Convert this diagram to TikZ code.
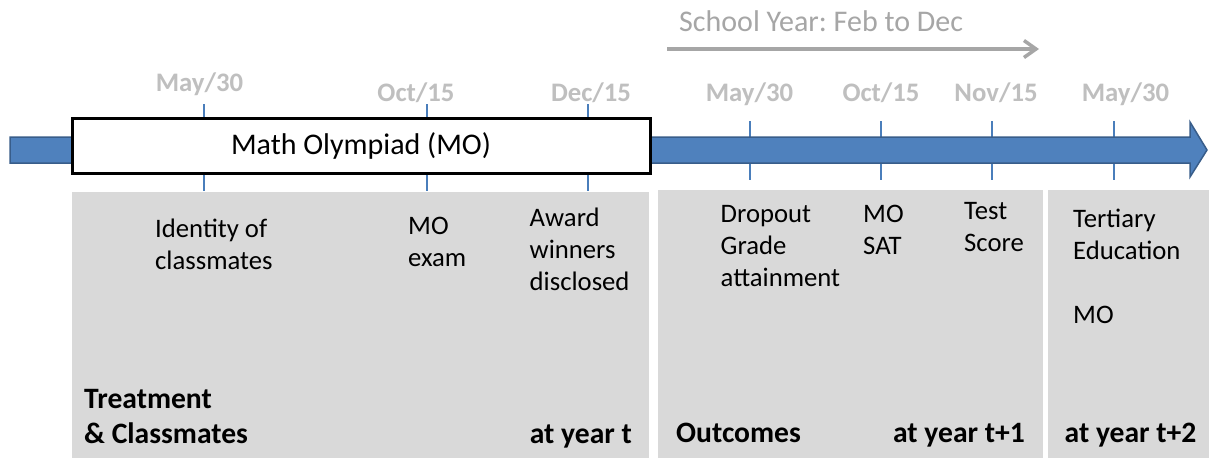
\documentclass[tikz,border=0pt]{standalone}
\usepackage{fontspec}
\setmainfont{Carlito}
\usetikzlibrary{arrows.meta}
\definecolor{shaftblue}{HTML}{4F81BD}
\definecolor{shaftedge}{HTML}{385D8A}
\definecolor{tickblue}{HTML}{4A7EBB}
\definecolor{panelgray}{HTML}{D9D9D9}
\definecolor{dategray}{HTML}{BFBFBF}
\definecolor{yeargray}{HTML}{A6A6A6}
\newcommand{\mylines}[1]{\begin{tabular}[t]{@{}l@{}}#1\end{tabular}}
\frenchspacing
\begin{document}
\begin{tikzpicture}[x=1pt,y=-1pt,
  body/.style={inner sep=0pt, anchor=base west, font=\fontsize{26.7}{32}\selectfont},
  bottomlbl/.style={inner sep=0pt, font=\fontsize{29.6}{35.5}\selectfont\bfseries},
  datelbl/.style={inner sep=0pt, anchor=base, text=dategray, font=\fontsize{26.7}{32}\selectfont\bfseries},
  tickline/.style={draw=tickblue, line width=1.5pt},
  panel/.style={fill=panelgray},
]
\fill[white] (0,0) rectangle (1209,458);
\useasboundingbox (0,0) rectangle (1209,458);

% panels
\fill[panel] (72,192) rectangle (649,458);
\fill[panel] (658,190) rectangle (1043,458);
\fill[panel] (1048,190) rectangle (1209,458);

% ticks
\foreach \tx in {204,427,588} {\draw[tickline] (\tx,104) -- (\tx,191);}
\foreach \tx in {750,881,992,1114} {\draw[tickline] (\tx,121) -- (\tx,180);}

% timeline arrow
\draw[fill=shaftblue, draw=shaftedge, line width=1.5pt, line join=miter]
  (10,137) -- (1190,137) -- (1190,122) -- (1207,150) -- (1190,177) -- (1190,163) -- (10,163) -- cycle;

% Math Olympiad box
\node[draw=black, line width=3pt, fill=white, minimum width=578pt, minimum height=55pt,
  inner sep=0pt, font=\fontsize{30}{36}\selectfont] (mo) at (361,145.5) {Math Olympiad (MO)};

% school year
\node[anchor=base west, text=yeargray, font=\fontsize{30}{36}\selectfont, inner sep=0pt] (sy) at (679,31.7) {School Year: Feb to Dec};
\coordinate (sya) at (667,49);
\coordinate (syb) at (1039,49);
\draw[yeargray, line width=3.5pt, -{Straight Barb[length=12pt, width=17pt]}] (sya) -- (syb);

% dates
\node[datelbl] (d1) at (199.5,91) {May/30};
\node[datelbl] (d2) at (416,101) {Oct/15};
\node[datelbl] (d3) at (591,101) {Dec/15};
\node[datelbl] (d4) at (749.5,101) {May/30};
\node[datelbl] (d5) at (881,101) {Oct/15};
\node[datelbl] (d6) at (996,101) {Nov/15};
\node[datelbl] (d7) at (1125.5,101) {May/30};

% body texts
\node[body] (ident) at (155,237) {\mylines{Identity of\\classmates}};
\node[body] (moexam) at (408,234) {\mylines{MO\\exam}};
\node[body] (award) at (529.5,226) {\mylines{Award\\winners\\disclosed}};
\node[body] (drop) at (720.5,222) {\mylines{Dropout\\Grade\\attainment}};
\node[body] (mosat) at (863,222) {\mylines{MO\\SAT}};
\node[body] (test) at (964,219) {\mylines{Test\\Score}};
\node[body] (tert) at (1073,227) {\mylines{Tertiary\\Education}};
\node[body] (mo2) at (1073,323) {MO};

% bottom labels
\node[bottomlbl, anchor=base west] (treat) at (84,408) {\mylines{Treatment\\\& Classmates}};
\node[bottomlbl, anchor=base east] (yt) at (632,443) {at year t};
\node[bottomlbl, anchor=base west] (outc) at (676,442) {Outcomes};
\node[bottomlbl, anchor=base east] (yt1) at (1025,442) {at year t+1};
\node[bottomlbl, anchor=base west] (yt2) at (1064.5,442) {at year t+2};
\end{tikzpicture}
\end{document}
